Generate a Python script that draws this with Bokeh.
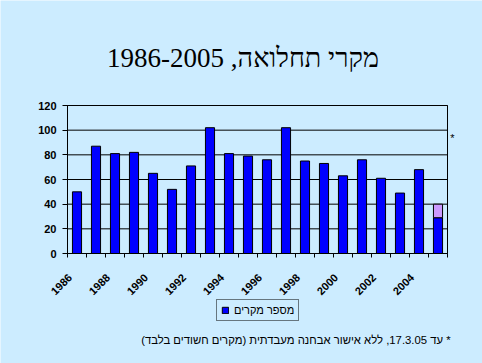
from bokeh.plotting import figure
from bokeh.models import (ColumnDataSource, Range1d, FixedTicker, Label,
                          LinearAxis, BoxAnnotation)
from bokeh.embed import file_html
from bokeh.resources import INLINE

# ---- data ----
years = [1986, 1987, 1988, 1989, 1990, 1991, 1992, 1993, 1994, 1995,
         1996, 1997, 1998, 1999, 2000, 2001, 2002, 2003, 2004, 2005]
cases = [50, 87, 81, 82, 65, 52, 71, 102, 81, 79,
         76, 102, 75, 73, 63, 76, 61, 49, 68, 29]
suspected = [0, 0, 0, 0, 0, 0, 0, 0, 0, 0,
             0, 0, 0, 0, 0, 0, 0, 0, 0, 11]
y_ticks = [0, 20, 40, 60, 80, 100, 120]
label_years = [1986, 1988, 1990, 1992, 1994, 1996, 1998, 2000, 2002, 2004]

title_text = "מקרי תחלואה, 1986-2005"
legend_text = "מספר מקרים"
note_text = "\u200f* עד 17.3.05, ללא אישור אבחנה מעבדתית (מקרים חשודים בלבד)\u200f"
star_text = "*"

BG = "#CCECFF"

# ---- layout (pixels inside the figure) ----
W, H = 482, 363
PL, PR, PT, PB = 67, 447, 105, 253          # plot-area box
n = len(years)
ymax = y_ticks[-1]
xpx = (PR - PL) / n
ypx = (PB - PT) / ymax


def dx(px):
    return (px - PL) / xpx


def dy(py):
    return (PB - py) / ypx


xpos = [i + 0.5 for i in range(n)]
src = ColumnDataSource(dict(x=xpos, top=cases))
sx, sb, st = [], [], []
for x, c, s in zip(xpos, cases, suspected):
    if s > 0:
        sx.append(x); sb.append(c); st.append(c + s)
src2 = ColumnDataSource(dict(x=sx, bottom=sb, top=st))

p = figure(width=W, height=H, output_backend="svg", toolbar_location=None,
           x_range=Range1d(dx(0), dx(W)), y_range=Range1d(dy(H), dy(0)),
           x_axis_location=None, y_axis_location=None,
           min_border=0)
p.background_fill_color = BG
p.border_fill_color = BG
p.outline_line_color = None
p.grid.visible = False

# horizontal grid lines across the plot area
p.segment(x0=[0] * len(y_ticks), x1=[n] * len(y_ticks), y0=y_ticks, y1=y_ticks,
          line_color="black", line_width=1)

p.vbar(x="x", top="top", width=0.48, source=src, fill_color="#0000FF",
       line_color="black", line_width=1, legend_label=legend_text)
p.vbar(x="x", bottom="bottom", top="top", width=0.48, source=src2,
       fill_color="#CC99FF", line_color="black", line_width=1)

p.add_layout(BoxAnnotation(left=0, right=n, bottom=0, top=ymax,
                           fill_alpha=0, line_color="black", line_width=1,
                           line_alpha=1))

# y axis
ya = LinearAxis(fixed_location=0, bounds=(0, ymax))
ya.ticker = FixedTicker(ticks=y_ticks)
ya.axis_line_color = "black"
ya.major_tick_line_color = "black"
ya.major_tick_out = 5
ya.major_tick_in = 0
ya.minor_tick_line_color = None
ya.major_label_standoff = 6
ya.major_label_text_font = "Liberation Sans"
ya.major_label_text_font_style = "bold"
ya.major_label_text_font_size = "11px"
ya.major_label_text_color = "black"
p.add_layout(ya, "left")

# x axis (labels sit slightly left of the category centre, as in the original)
label_shift = 0.37
label_pos = [xpos[years.index(y)] - label_shift for y in label_years]
boundaries = list(range(n + 1))
xa = LinearAxis(fixed_location=0, bounds=(0, n))
xa.ticker = FixedTicker(ticks=label_pos, minor_ticks=boundaries)
xa.major_label_overrides = {xp: str(y) for xp, y in zip(label_pos, label_years)}
xa.major_tick_out = 0
xa.major_tick_in = 0
xa.major_tick_line_color = None
xa.minor_tick_out = 4
xa.minor_tick_in = 0
xa.minor_tick_line_color = "black"
xa.axis_line_color = "black"
xa.major_label_orientation = 0.785398
xa.major_label_standoff = 18
xa.major_label_text_font = "Liberation Sans"
xa.major_label_text_font_style = "bold"
xa.major_label_text_font_size = "11px"
xa.major_label_text_color = "black"
p.add_layout(xa, "below")

# legend
lg = p.legend[0]
lg.location = (216, H - 321)
lg.border_line_color = "black"
lg.border_line_width = 1
lg.background_fill_color = BG
lg.background_fill_alpha = 1
lg.label_text_font = "Liberation Sans"
lg.label_text_font_size = "11px"
lg.label_text_color = "black"
lg.glyph_width = 8
lg.glyph_height = 8
lg.label_height = 11
lg.label_standoff = 5
lg.padding = 4
lg.margin = 0
lg.spacing = 0

# texts
p.add_layout(Label(x=dx(242.5), y=dy(57), text=title_text,
                   text_align="center", text_baseline="alphabetic",
                   text_font="Liberation Serif", text_font_size="27px",
                   text_color="black"))
p.add_layout(Label(x=dx(450), y=dy(339), text=note_text,
                   text_align="right", text_baseline="alphabetic",
                   text_font="Liberation Sans", text_font_size="11.3px",
                   text_color="black"))
p.add_layout(Label(x=dx(452), y=dy(137), text=star_text,
                   text_align="center", text_baseline="alphabetic",
                   text_font="Liberation Sans", text_font_size="11px",
                   text_color="black"))

open("out.html", "w").write(file_html(p, INLINE))
